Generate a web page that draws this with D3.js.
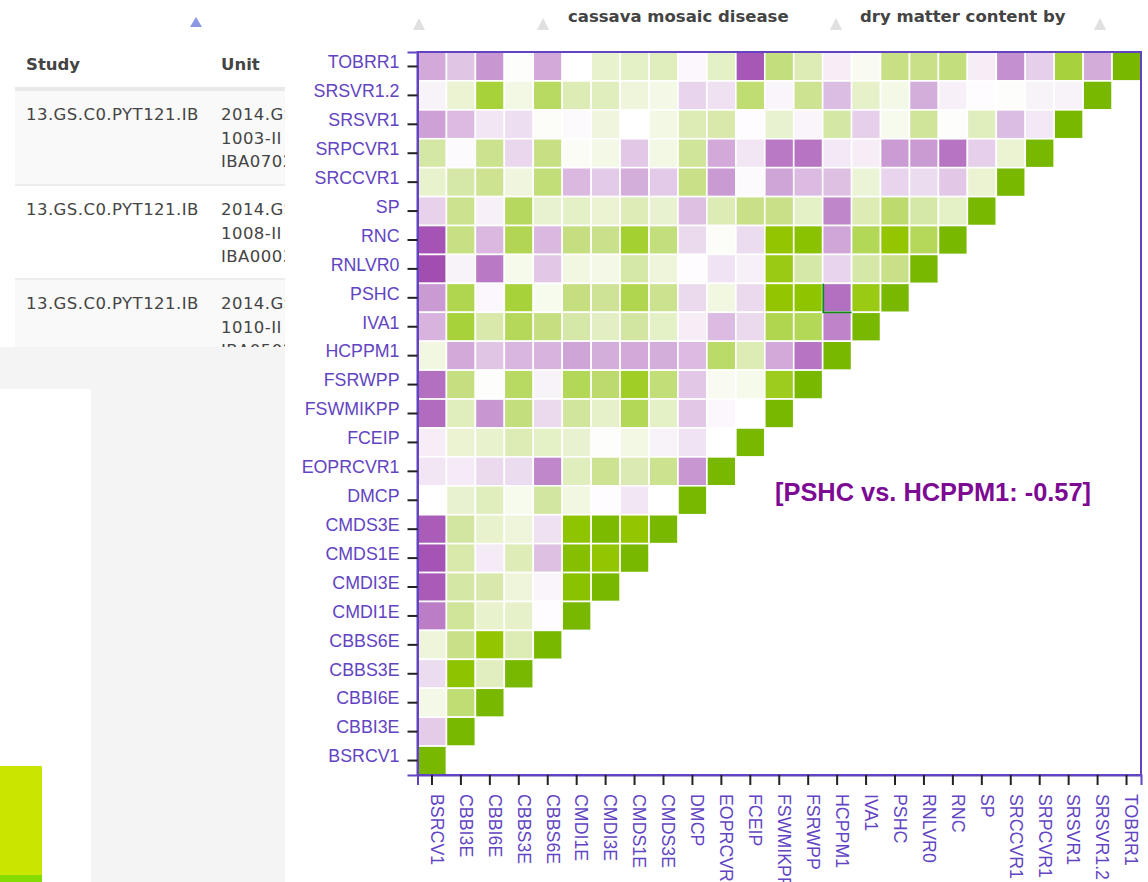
<!DOCTYPE html>
<html><head><meta charset="utf-8">
<script src="https://cdnjs.cloudflare.com/ajax/libs/d3/7.8.5/d3.min.js"></script>
<style>html,body{margin:0;padding:0;background:#fff;overflow:hidden}svg{display:block}</style>
</head><body><svg id="chart" width="1148" height="882"></svg>
<script>
const columns = ["BSRCV1","CBBI3E","CBBI6E","CBBS3E","CBBS6E","CMDI1E","CMDI3E","CMDS1E","CMDS3E","DMCP","EOPRCVR1","FCEIP","FSWMIKPP","FSRWPP","HCPPM1","IVA1","PSHC","RNLVR0","RNC","SP","SRCCVR1","SRPCVR1","SRSVR1","SRSVR1.2","TOBRR1"];
const rows = columns.slice().reverse();
const corr = [
[-.34,-.23,-.41,.01,-.34,0,.15,.17,.2,-.03,.17,-.66,.38,.22,-.07,.04,.36,.35,.38,-.07,-.44,-.19,.55,-.33,1],
[-.05,.13,.56,.08,.45,.22,.2,.11,.07,-.17,-.12,.4,-.04,.32,-.26,.16,.07,-.32,-.06,-.01,.01,-.05,-.05,1],
[-.37,-.27,-.1,-.13,.02,-.02,.1,0,.08,.22,.25,-.01,.14,-.04,.27,-.19,.05,.3,.01,.2,-.26,-.09,1],
[.27,-.02,.33,-.16,.36,.03,.07,-.22,.08,.3,-.34,-.1,-.53,-.55,-.09,-.07,-.39,-.4,-.55,-.19,.13,1],
[.15,.26,.32,.1,.39,-.28,-.21,-.32,-.21,.35,-.4,-.02,-.36,-.27,-.25,.12,-.17,-.14,-.22,.13,1],
[-.18,.33,-.06,.46,.14,.17,.13,.21,.14,-.25,.22,.35,.35,.17,-.48,.22,.42,.26,.17,1],
[-.68,.36,-.28,.49,-.28,.37,.34,.6,.38,-.15,.02,-.14,.85,.9,-.35,.48,.85,.47,1],
[-.7,-.05,-.53,.06,-.22,.09,.07,.26,.11,-.01,-.11,-.06,.75,.26,-.17,.26,.35,1],
[-.4,.5,-.03,.56,.05,.37,.31,.5,.33,-.15,.09,-.15,.85,.87,-.57,.75,1],
[-.3,.56,.25,.47,.37,.26,.18,.28,.17,-.07,-.27,-.15,.5,.48,-.49,1],
[.09,-.34,-.23,-.29,-.3,-.36,-.32,-.34,-.32,-.27,.43,.22,-.34,-.55,1],
[-.57,.37,.01,.45,-.05,.48,.42,.66,.39,-.22,.04,.06,.7,1],
[-.58,.2,-.41,.38,-.15,.29,.16,.48,.17,-.22,-.03,0,1],
[-.07,.13,.15,.22,.17,.14,.01,.08,-.05,-.11,0,1],
[-.1,-.08,-.15,-.14,-.47,.2,.32,.23,.33,-.41,1],
[0,.14,.2,.05,.28,.09,-.01,-.1,0,1],
[-.64,.28,.15,.11,-.12,.87,.98,.85,1],
[-.68,.25,-.08,.21,-.25,.93,.85,1],
[-.65,.27,.24,.11,-.04,.9,1],
[-.51,.3,.15,.16,-.01,1],
[.11,.35,.85,.22,1],
[-.14,.88,.19,1],
[.07,.4,1],
[-.2,1],
[1]
];
const selected = {row:"PSHC", col:"HCPPM1", value:-0.57};
const colorStops = [-1,0,.3,.55,.85,1];
const colorRange = ["#7a0290","#ffffff","#d0e49a","#a8d23c","#93c600","#78b800"];
const tableHeaders = ["Study","Unit"];
const studyNames = ["13.GS.C0.PYT121.IB","13.GS.C0.PYT121.IB","13.GS.C0.PYT121.IB"];
const unitLines = [["2014.GS","1003-II","IBA0702"],["2014.GS","1008-II","IBA0003"],["2014.GS","1010-II","IBA0502"]];
const headings = [["cassava mosaic disease",568],["dry matter content by",860]];
const sortArrows = [[196,"#8c98e4",17,27],[419,"#e0e0e0",18,30],[543,"#e0e0e0",18,30],[836,"#e0e0e0",18,30],[1100,"#e0e0e0",18,30]];

const svg = d3.select("#chart");
const purple = "#6244c2";
const uiFont = "'DejaVu Sans',Verdana,sans-serif";
const chartFont = "'Liberation Sans',Arial,sans-serif";
const bodyFs = 16.5;

// page behind the chart
const page = svg.append("g");
const defs = svg.append("defs");
defs.append("clipPath").attr("id","tableClip").append("rect").attr("x",0).attr("y",0).attr("width",285).attr("height",347);
const table = page.append("g").attr("clip-path","url(#tableClip)");
table.append("rect").attr("x",15).attr("y",87).attr("width",270).attr("height",4).attr("fill","#e9e9e9");
const rowTops=[91,186,280], rowH=[93,92,67];
rowTops.forEach((y,i)=>{
  table.append("rect").attr("x",15).attr("y",y).attr("width",270).attr("height",rowH[i]).attr("fill",i%2?"#ffffff":"#f9f9f9");
  if(i<2) table.append("rect").attr("x",15).attr("y",y+rowH[i]).attr("width",270).attr("height",2).attr("fill","#ececec");
  table.append("text").attr("x",26).attr("y",y+29).attr("font-family",uiFont).attr("font-size",bodyFs).attr("letter-spacing",.45).attr("fill","#444").text(studyNames[i]);
  unitLines[i].forEach((t,k)=>table.append("text").attr("x",221).attr("y",y+29+k*23.7).attr("font-family",uiFont).attr("font-size",bodyFs).attr("letter-spacing",.45).attr("fill","#444").text(t));
});
tableHeaders.forEach((t,i)=>table.append("text").attr("x",[26,221][i]).attr("y",70).attr("font-family",uiFont).attr("font-weight","bold").attr("font-size",bodyFs).attr("fill","#444").text(t));
page.append("rect").attr("x",0).attr("y",347).attr("width",285).attr("height",535).attr("fill","#f4f4f4");
page.append("rect").attr("x",0).attr("y",389).attr("width",91).attr("height",493).attr("fill","#fff");
page.append("rect").attr("x",0).attr("y",766).attr("width",42).attr("height",109).attr("fill","#c8e600");
page.append("rect").attr("x",0).attr("y",875).attr("width",42).attr("height",7).attr("fill","#84dc00");
page.selectAll("path.arrow").data(sortArrows).join("path").attr("class","arrow")
  .attr("d",d=>`M${d[0]-6},${d[3]}L${d[0]},${d[2]}L${d[0]+6},${d[3]}Z`).attr("fill",d=>d[1]);
page.selectAll("text.head").data(headings).join("text").attr("class","head")
  .attr("x",d=>d[1]).attr("y",22).attr("font-family",uiFont).attr("font-weight","bold").attr("font-size",bodyFs).attr("fill","#444").text(d=>d[0]);

// heatmap
const L=417.5,R=1141,T=52,B=775;
const x = d3.scaleBand().domain(columns).range([L,R]);
const y = d3.scaleBand().domain(rows).range([T,B]);
const color = d3.scaleLinear().domain(colorStops).range(colorRange);
const cells = corr.flatMap((vals,ri)=>vals.map((v,ci)=>({row:rows[ri],col:columns[ci],v})));
svg.append("g").selectAll("rect").data(cells).join("rect")
  .attr("x",d=>x(d.col)).attr("y",d=>y(d.row)).attr("width",x.bandwidth()).attr("height",y.bandwidth())
  .attr("fill",d=>color(d.v)).attr("stroke","#fff").attr("stroke-width",1.6);
const sx=x(selected.col), sy=y(selected.row), bw=x.bandwidth();
svg.append("path").attr("d",`M${sx+.6},${sy+.5}V${sy+bw}H${sx+bw}`).attr("fill","none").attr("stroke","#0f8a14").attr("stroke-width",1.8);

svg.append("rect").attr("x",L).attr("y",T).attr("width",R-L).attr("height",B-T).attr("fill","none").attr("stroke",purple).attr("stroke-width",2);

const gy = svg.append("g").attr("transform",`translate(${L},0)`).call(d3.axisLeft(y).tickSize(10).tickPadding(8));
gy.selectAll("text").attr("dy","0.1em");
const gx = svg.append("g").attr("transform",`translate(0,${B})`).call(d3.axisBottom(x).tickSize(10).tickPadding(8));
gx.selectAll("text").attr("text-anchor","start").attr("dominant-baseline","middle").attr("dy",0)
  .attr("y",null).attr("x",null).attr("transform","translate(3.5,19) rotate(90)");
[gx,gy].forEach(g=>{
  g.select(".domain").attr("stroke",purple).attr("stroke-width",2);
  g.selectAll(".tick line").attr("stroke","#222").attr("stroke-width",2);
  g.selectAll("text").attr("font-family",chartFont).attr("font-size",17.8).attr("fill",purple);
});
svg.append("text").attr("x",775).attr("y",501).attr("font-family",chartFont).attr("font-weight","bold").attr("font-size",25.4).attr("fill","#7d0a93")
  .text(`[${selected.row} vs. ${selected.col}: ${selected.value}]`);
</script></body></html>
